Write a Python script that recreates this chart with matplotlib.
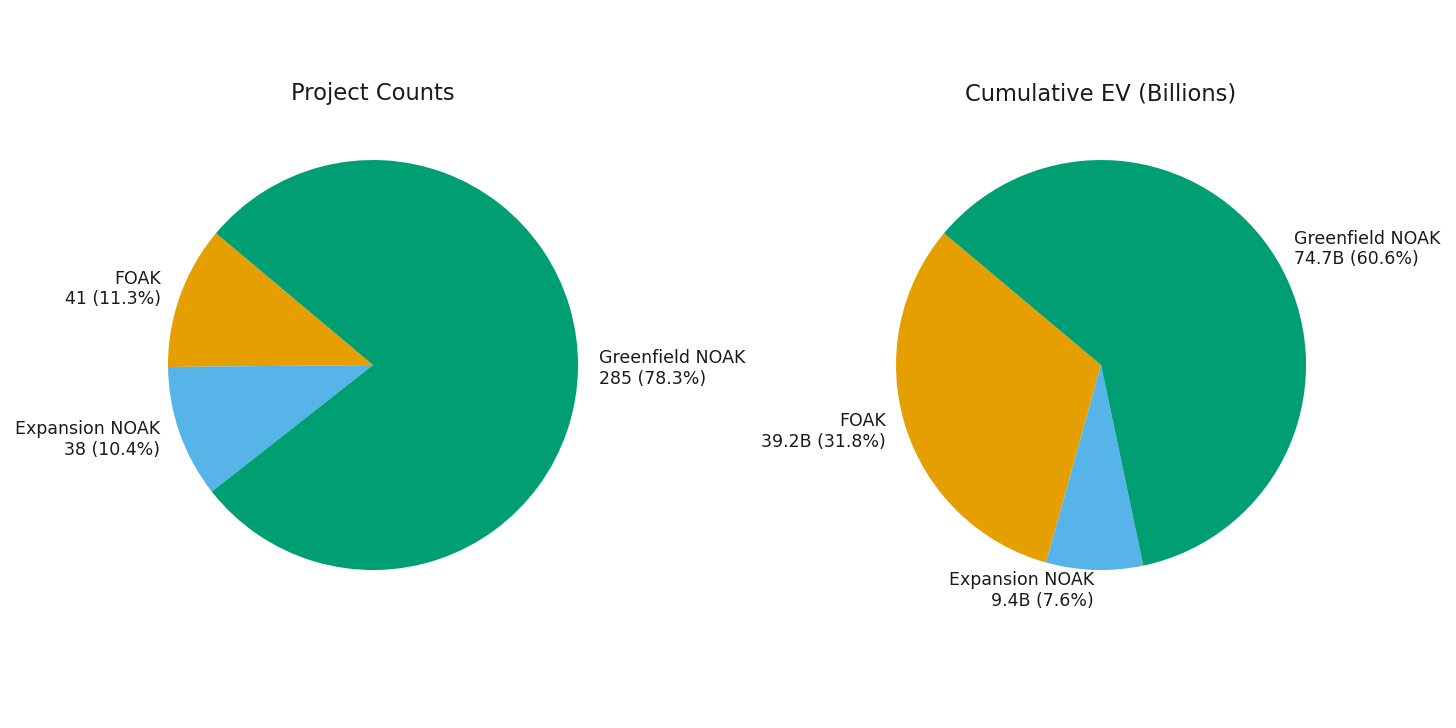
import matplotlib
matplotlib.use("Agg")
from matplotlib import pyplot as plt

plt.rcParams["font.family"] = ["DejaVu Sans"]

categories = ["FOAK", "Expansion NOAK", "Greenfield NOAK"]
project_counts = [41, 38, 285]
cumulative_ev = [39.2, 9.4, 74.7]  # billions
colors = ["#E69F00", "#56B4E9", "#009E73"]


def make_labels(values, fmt):
    total = sum(values)
    return ["{}\n{} ({:.1f}%)".format(name, fmt(v), 100.0 * v / total)
            for name, v in zip(categories, values)]


fig = plt.figure(figsize=(14.56, 7.28), dpi=100)
ax1 = fig.add_axes([0.0802, 0.1466, 0.352, 0.704])
ax2 = fig.add_axes([0.5802, 0.1466, 0.352, 0.704])

ax1.pie(project_counts, labels=make_labels(project_counts, lambda v: "{}".format(v)),
        colors=colors, startangle=140, counterclock=True,
        textprops={"fontsize": 12.5, "color": "#1a1a1a"})
ax1.set_title("Project Counts", fontsize=16.3, color="#1a1a1a")

ax2.pie(cumulative_ev, labels=make_labels(cumulative_ev, lambda v: "{:.1f}B".format(v)),
        colors=colors, startangle=140, counterclock=True,
        textprops={"fontsize": 12.5, "color": "#1a1a1a"})
ax2.set_title("Cumulative EV (Billions)", fontsize=16.3, color="#1a1a1a")

fig.savefig("out.png", dpi=100)
